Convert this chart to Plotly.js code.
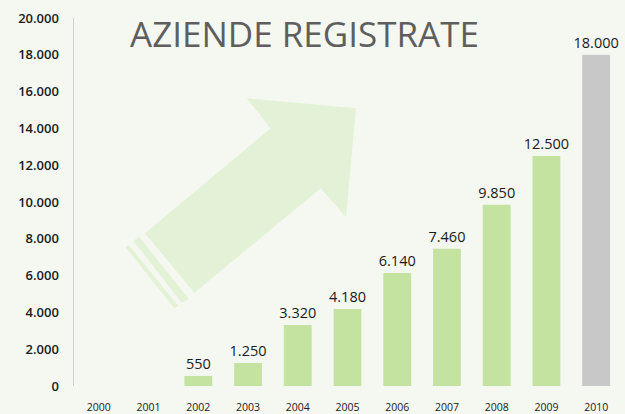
<!DOCTYPE html>
<html>
<head>
<meta charset="utf-8">
<script src="https://cdn.plot.ly/plotly-3.0.1.min.js"></script>
<style>
  html, body { margin: 0; padding: 0; background: #f5f8f1; }
  #chart { width: 625px; height: 414px; }
</style>
</head>
<body>
<div id="chart"></div>
<script>
// ---- data ----
var years = ['2000','2001','2002','2003','2004','2005','2006','2007','2008','2009','2010'];
var registered = [null, null, 550, 1250, 3320, 4180, 6140, 7460, 9850, 12500, 18000];
var yTickValues = [0, 2000, 4000, 6000, 8000, 10000, 12000, 14000, 16000, 18000, 20000];
var chartTitle = 'AZIENDE REGISTRATE';

// ---- styles ----
var GREEN = '#c4e3a0';
var GREY = '#c8c8c8';
var ARROW = '#e3f2d6';
var BG = '#f5f8f1';

function fmt(v) {
  return String(v).replace(/\B(?=(\d{3})+(?!\d))/g, '.');
}

var W = 625, H = 414;
var M = { l: 74, r: 4, t: 18, b: 28 };
var pw = W - M.l - M.r, ph = H - M.t - M.b;
function px(x, y) {
  return ((x - M.l) / pw).toFixed(4) + ',' + ((H - M.b - y) / ph).toFixed(4);
}
function poly(pts) {
  return 'M' + pts.map(function (p) { return px(p[0], p[1]); }).join(' L') + ' Z';
}

// decorative arrow (pixel layout positions)
var arrowPts = [[145,233.3],[270.7,128.3],[246.7,98.3],[356,108.3],[346,217],[320.7,188.3],[194.3,292.7]];
var band1 = [[139,236.7],[189,299.3],[181.7,302.7],[133.3,240.7]];
var band2 = [[129,245.3],[178.3,306],[174.3,308.3],[125.7,247.3]];

var shapes = [arrowPts, band1, band2].map(function (p) {
  return { type: 'path', xref: 'paper', yref: 'paper', path: poly(p),
           fillcolor: ARROW, line: { width: 0 }, layer: 'below' };
});

var trace = {
  type: 'bar',
  x: years,
  y: registered,
  marker: { color: years.map(function (y) { return y === '2010' ? GREY : GREEN; }), line: { width: 0 } },
  text: registered.map(function (v) { return v === null ? '' : fmt(v); }),
  textposition: 'outside',
  constraintext: 'none',
  textfont: { family: 'Open Sans, sans-serif', size: 14.5, color: '#1a1a1a' },
  cliponaxis: false,
  hoverinfo: 'skip'
};

var layout = {
  width: W, height: H,
  margin: M,
  paper_bgcolor: BG,
  plot_bgcolor: 'rgba(0,0,0,0)',
  separators: ',.',
  bargap: 0.44,
  showlegend: false,
  title: {
    text: chartTitle,
    x: 130 / W, xanchor: 'left',
    y: 1 - 35 / H, yanchor: 'middle',
    font: { family: 'Open Sans, sans-serif', size: 35, color: '#5e5e5e' }
  },
  xaxis: {
    type: 'category',
    showline: false, zeroline: false, showgrid: false,
    ticks: 'outside', ticklen: 11, tickcolor: 'rgba(0,0,0,0)',
    tickfont: { family: 'Open Sans, sans-serif', size: 10.5, color: '#1a1a1a' }
  },
  yaxis: {
    range: [0, 20000],
    tickvals: yTickValues,
    ticktext: yTickValues.map(fmt),
    showline: true, linecolor: '#cfcfcf', linewidth: 1.5,
    zeroline: false, showgrid: false,
    ticks: 'outside', ticklen: 11, tickcolor: 'rgba(0,0,0,0)',
    tickfont: { family: 'Open Sans, sans-serif', size: 13, weight: 600, color: '#1a1a1a' }
  },
  shapes: shapes
};

Plotly.newPlot('chart', [trace], layout, { staticPlot: true, displayModeBar: false });
</script>
</body>
</html>
